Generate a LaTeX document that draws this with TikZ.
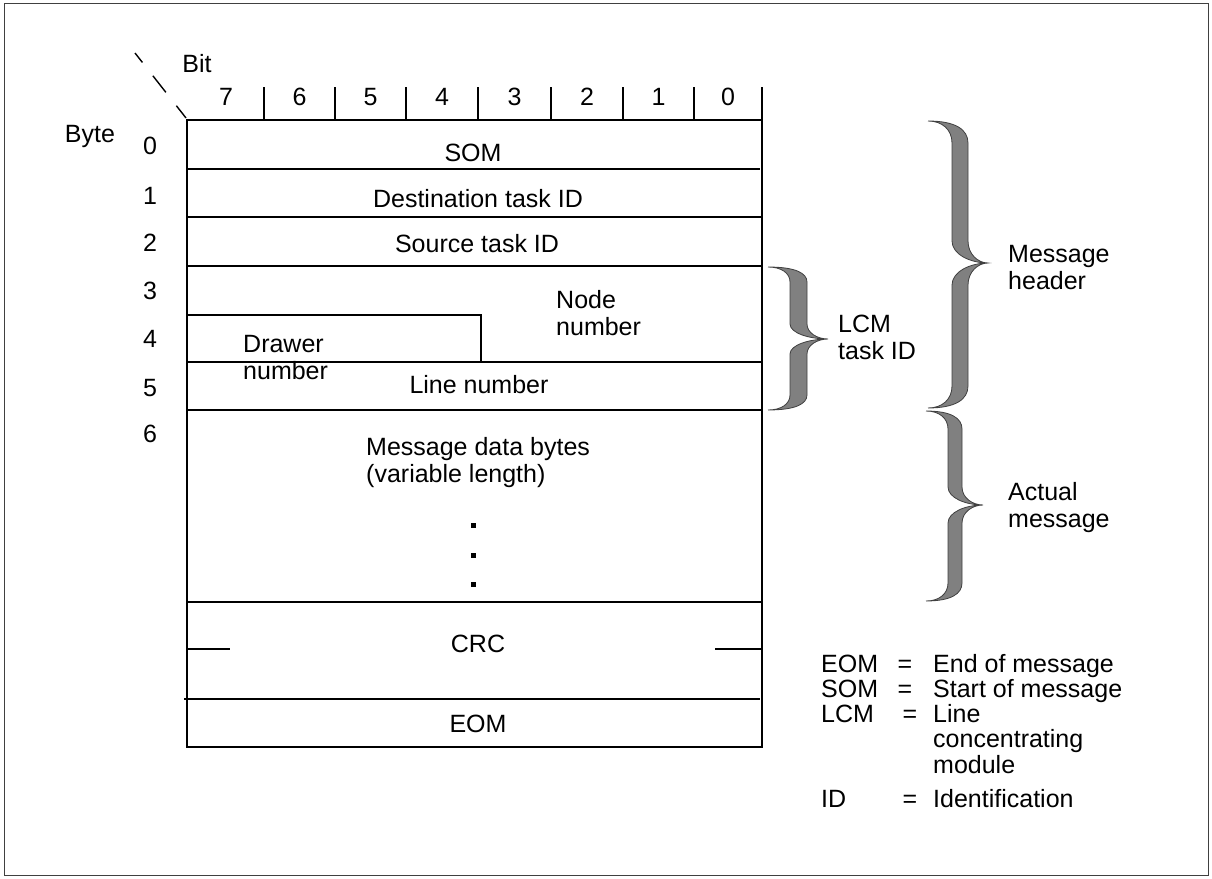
\documentclass[tikz,border=0pt]{standalone}
\usepackage{fontspec}
\setmainfont{Liberation Sans}
\newcommand\thickbrace[8]{%
 \filldraw[bracestyle]
 (#1,#2) .. controls ({#1+0.6*(#4-#1)},#2) and (#4,{#2+0.4*#8}) .. (#4,{#2+#8})
 -- (#4,{#7-#8}) .. controls (#4,{#7-0.4*#8}) and ({#4+0.5*(#6-#4)},#7) .. (#6,#7)
 .. controls ({#4+0.5*(#6-#4)},#7) and (#4,{#7+0.4*#8}) .. (#4,{#7+#8})
 -- (#4,{#3-#8}) .. controls (#4,{#3-0.4*#8}) and ({#1+0.6*(#4-#1)},#3) .. (#1,#3)
 .. controls ({#1+0.7*(#5-#1)},#3) and (#5,{#3-0.4*#8}) .. (#5,{#3-#8})
 -- (#5,{#7+#8}) .. controls (#5,{#7+0.4*#8}) and ({#5+0.5*(#6-#5)},#7) .. (#6,#7)
 .. controls ({#5+0.5*(#6-#5)},#7) and (#5,{#7-0.4*#8}) .. (#5,{#7-#8})
 -- (#5,{#2+#8}) .. controls (#5,{#2+0.4*#8}) and ({#1+0.7*(#5-#1)},#2) .. (#1,#2) -- cycle;
}
\begin{document}
\begin{tikzpicture}[x=1pt,y=-1pt,
  every node/.style={font=\fontsize{25}{27}\selectfont, inner sep=0pt},
  txt/.style={anchor=base},
  tline/.style={line width=1.6pt, line cap=rect},
  bracestyle/.style={fill=black!50, draw=black!75, line width=0.8pt},
  dotsq/.style={fill=black}]
\useasboundingbox (0,0) rectangle (1212,878);
% outer frame
\draw[black!75, line width=1pt] (4,3) rectangle (1208,875);

% bit / byte diagonal
\draw[line width=1.4pt, dash pattern=on 21pt off 17pt, dash phase=9pt] (135,53) -- (186,118);
\node[txt] (bit) at (197,72) {Bit};
\node[txt] (byte) at (90,142) {Byte};

% bit numbers
\foreach \b/\x in {7/226,6/299.5,5/370.5,4/442,3/514.5,2/587,1/658.5,0/728}
  \node[txt] (bit\b) at (\x,105) {\b};
\foreach \x in {264,335,406,478,551,623,694}
  \draw[tline, line cap=butt] (\x,87) -- (\x,120);

% byte numbers
\foreach \n/\y in {0/154,1/204,2/251,3/299,4/347,5/396,6/442}
  \node[txt] (byte\n) at (150,\y) {\n};

% table frame
\draw[tline] (187,120) -- (762,120);
\draw[tline] (187,120) -- (187,747) -- (762,747);
\draw[tline, line cap=butt] (762,87) -- (762,747);
\draw[tline] (187,169) -- (759,169);
\foreach \y in {217,266,362,410,602}
  \draw[tline] (187,\y) -- (762,\y);
\draw[tline] (187,315) -- (481,315) -- (481,362);
\draw[tline] (185,699) -- (759,699);
\draw[tline] (187,649) -- (229,649);
\draw[tline] (716,649) -- (762,649);

% row texts
\node[txt] (som) at (473,161) {SOM};
\node[txt] (dest) at (478,207) {Destination task ID};
\node[txt] (src) at (477,252) {Source task ID};
\node[anchor=north west, align=left] (node) at (556,290) {Node\\number};
\node[anchor=north west, align=left] (drawer) at (243,335) {Drawer\\number};
\node[txt] (line) at (479,393) {Line number};
\node[anchor=north west, align=left] (data) at (366,437) {Message data bytes\\(variable length)};
\foreach \y/\n in {525/a,555/b,584/c}
  \fill[dotsq] (470.5,{\y-2.5}) rectangle (475.5,{\y+2.5});
\node[txt] (crc) at (478,652) {CRC};
\node[txt] (eom) at (478,732) {EOM};

% braces
\thickbrace{768}{267}{410}{790}{807}{828}{339}{15}
\thickbrace{928}{121}{408}{952}{968}{988}{263}{22}
\thickbrace{926}{411}{601}{948}{962}{983}{505}{18}
\node[anchor=north west, align=left] (lcm) at (838,315) {LCM\\task ID};
\node[anchor=north west, align=left] (hdr) at (1008,245) {Message\\header};
\node[anchor=north west, align=left] (act) at (1008,482) {Actual\\message};

% legend
\node[anchor=base west] (l1) at (821,672) {EOM};
\node[anchor=base] (e1) at (905,672) {=};
\node[anchor=base west] (t1) at (933,672) {End of message};
\node[anchor=base west] (l2) at (821,697) {SOM};
\node[anchor=base] (e2) at (905,697) {=};
\node[anchor=base west] (t2) at (933,697) {Start of message};
\node[anchor=base west] (l3) at (821,722) {LCM};
\node[anchor=base] (e3) at (910,722) {=};
\node[anchor=north west, align=left, font=\fontsize{25}{25.5}\selectfont] (t3) at (933,704) {Line\\concentrating\\module};
\node[anchor=base west] (l4) at (821,807) {ID};
\node[anchor=base] (e4) at (910,807) {=};
\node[anchor=base west] (t4) at (933,807) {Identification};
\end{tikzpicture}
\end{document}
